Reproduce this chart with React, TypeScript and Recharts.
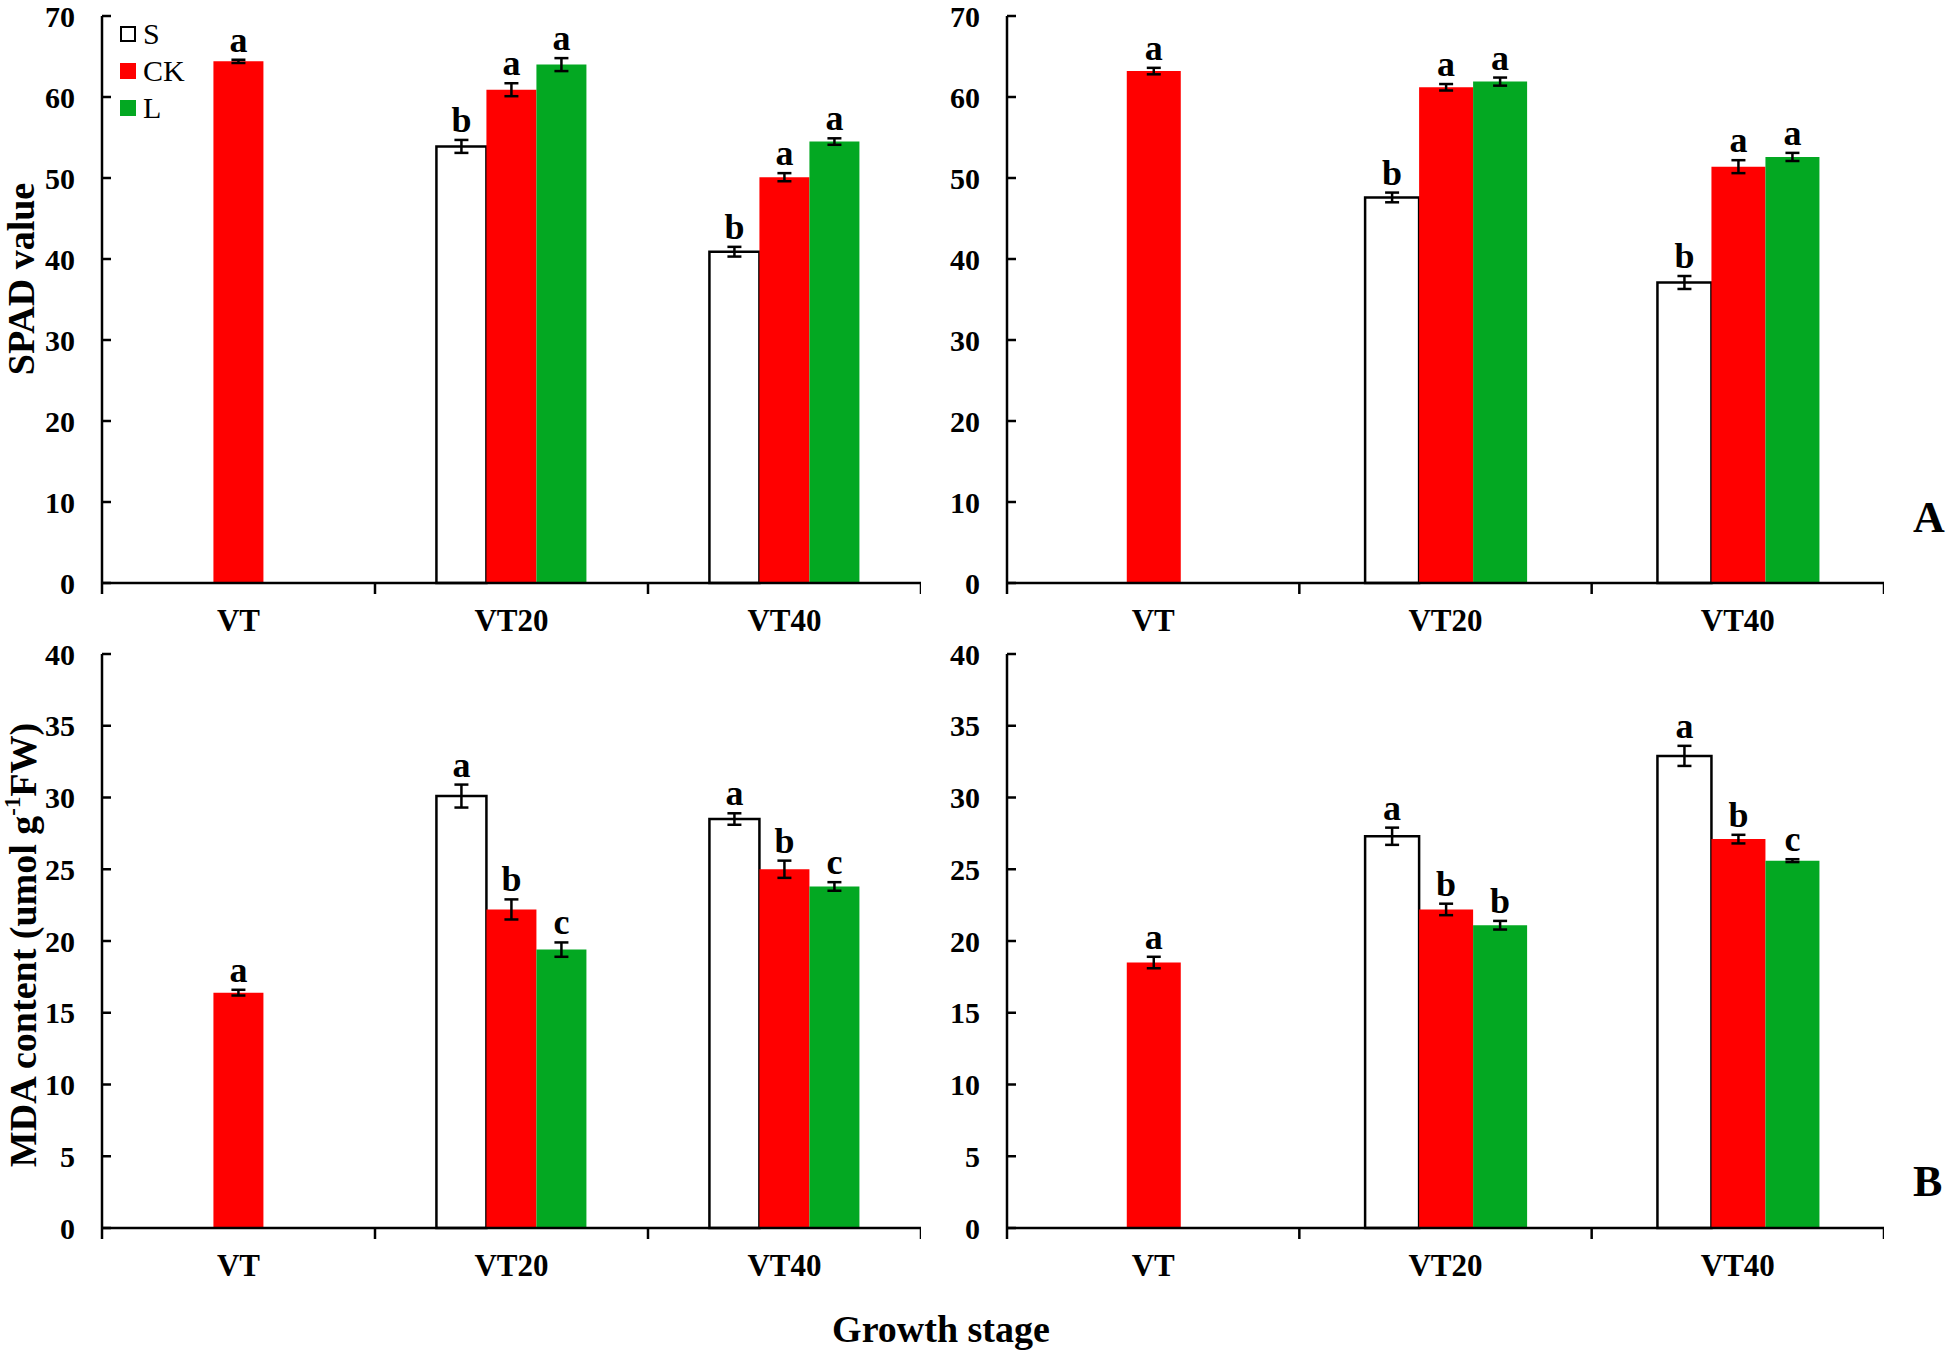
import React from "react";
import { BarChart, Bar, XAxis, YAxis, ErrorBar, LabelList } from "recharts";

const stages = ["VT", "VT20", "VT40"];

// SPAD, left panel
const spadL_S = [null, 53.9, 40.9];
const spadL_CK = [64.4, 60.9, 50.1];
const spadL_L = [null, 64.0, 54.5];
const spadL_Serr = [null, 0.8, 0.6];
const spadL_CKerr = [0.2, 0.8, 0.5];
const spadL_Lerr = [null, 0.8, 0.4];
const spadL_letters = [["", "b", "b"], ["a", "a", "a"], ["", "a", "a"]];

// SPAD, right panel
const spadR_S = [null, 47.6, 37.1];
const spadR_CK = [63.2, 61.2, 51.4];
const spadR_L = [null, 61.9, 52.6];
const spadR_Serr = [null, 0.6, 0.8];
const spadR_CKerr = [0.4, 0.4, 0.8];
const spadR_Lerr = [null, 0.5, 0.5];
const spadR_letters = [["", "b", "b"], ["a", "a", "a"], ["", "a", "a"]];

// MDA, left panel
const mdaL_S = [null, 30.1, 28.5];
const mdaL_CK = [16.4, 22.2, 25.0];
const mdaL_L = [null, 19.4, 23.8];
const mdaL_Serr = [null, 0.8, 0.4];
const mdaL_CKerr = [0.2, 0.7, 0.6];
const mdaL_Lerr = [null, 0.5, 0.3];
const mdaL_letters = [["", "a", "a"], ["a", "b", "b"], ["", "c", "c"]];

// MDA, right panel
const mdaR_S = [null, 27.3, 32.9];
const mdaR_CK = [18.5, 22.2, 27.1];
const mdaR_L = [null, 21.1, 25.6];
const mdaR_Serr = [null, 0.6, 0.7];
const mdaR_CKerr = [0.4, 0.4, 0.3];
const mdaR_Lerr = [null, 0.3, 0.1];
const mdaR_letters = [["", "a", "a"], ["a", "b", "b"], ["", "b", "c"]];

const spadTicks = [0, 10, 20, 30, 40, 50, 60, 70];
const mdaTicks = [0, 5, 10, 15, 20, 25, 30, 35, 40];

const FONT = "'Liberation Serif', 'Times New Roman', serif";
const RED = "#ff0000";
const GREEN = "#03a822";

function rows(s: any[], ck: any[], l: any[], se: any[], cke: any[], le: any[]) {
  return stages.map((stage, i) => ({ stage, S: s[i], CK: ck[i], L: l[i], sErr: se[i], ckErr: cke[i], lErr: le[i] }));
}

// label content: value is the stage name, so look the row up by it
const letterLabel = (data: any[], key: string, errKey: string, letters: string[]) => (p: any) => {
  const vb = p.viewBox ?? p;
  const i = stages.indexOf(p.value);
  const row = data[i];
  const v = row?.[key];
  if (v == null || !letters[i]) return null;
  const ppu = vb.height / v;
  const top = vb.y - (row[errKey] ?? 0) * ppu;
  return (
    <text x={vb.x + vb.width / 2} y={top - 8} textAnchor="middle" fontFamily={FONT} fontWeight="bold" fontSize={36} fill="#000">
      {letters[i]}
    </text>
  );
};

const YTick = (p: any) => (
  <g>
    <line x1={p.x + 27} x2={p.x + 36} y1={p.y} y2={p.y} stroke="#000" strokeWidth={2.5} />
    <text x={p.x} y={p.y} dy="0.35em" textAnchor="end" fontFamily={FONT} fontWeight="bold" fontSize={30} fill="#000">
      {p.payload.value}
    </text>
  </g>
);

const xTick = (band: number) => (p: any) => {
  const axisY = p.y - 37;
  return (
    <g>
      {p.index === 0 && <line x1={p.x - band / 2} x2={p.x - band / 2} y1={axisY} y2={axisY + 11} stroke="#000" strokeWidth={2.5} />}
      <line x1={p.x + band / 2} x2={p.x + band / 2} y1={axisY} y2={axisY + 11} stroke="#000" strokeWidth={2.5} />
      <text x={p.x} y={p.y} dy="0.35em" textAnchor="middle" fontFamily={FONT} fontWeight="bold" fontSize={31} fill="#000">
        {p.payload.value}
      </text>
    </g>
  );
};

interface PanelProps {
  data: any[];
  letters: string[][];
  ticks: number[];
  max: number;
  left: number;
  top: number;
  plotW: number;
  plotH: number;
  marginTop: number;
}

function Panel({ data, letters, ticks, max, left, top, plotW, plotH, marginTop }: PanelProps) {
  const yw = 100;
  const xh = 70;
  const err = { width: 7, stroke: "#000", strokeWidth: 2.5, direction: "y" as const };
  const stageKey = (d: any) => d.stage;
  return (
    <div style={{ position: "absolute", left, top }}>
      <BarChart width={yw + plotW} height={marginTop + plotH + xh} data={data} margin={{ top: marginTop, right: 0, bottom: 0, left: 0 }} barGap={0} barCategoryGap="22.5%">
        <XAxis dataKey="stage" height={xh} tickSize={0} tickMargin={37} tickLine={false} axisLine={{ stroke: "#000", strokeWidth: 2.5 }} tick={xTick(plotW / 3)} interval={0} />
        <YAxis width={yw} domain={[0, max]} ticks={ticks} interval={0} tickSize={0} tickMargin={27} tickLine={false} axisLine={{ stroke: "#000", strokeWidth: 2.5 }} tick={<YTick />} />
        <Bar dataKey="S" fill="#fff" stroke="#000" strokeWidth={2.5} isAnimationActive={false}>
          <ErrorBar dataKey="sErr" {...err} />
          <LabelList dataKey={stageKey} content={letterLabel(data, "S", "sErr", letters[0])} />
        </Bar>
        <Bar dataKey="CK" fill={RED} isAnimationActive={false}>
          <ErrorBar dataKey="ckErr" {...err} />
          <LabelList dataKey={stageKey} content={letterLabel(data, "CK", "ckErr", letters[1])} />
        </Bar>
        <Bar dataKey="L" fill={GREEN} isAnimationActive={false}>
          <ErrorBar dataKey="lErr" {...err} />
          <LabelList dataKey={stageKey} content={letterLabel(data, "L", "lErr", letters[2])} />
        </Bar>
      </BarChart>
    </div>
  );
}

const text = (extra: React.CSSProperties): React.CSSProperties => ({
  position: "absolute",
  fontFamily: FONT,
  fontWeight: "bold",
  color: "#000",
  whiteSpace: "nowrap",
  lineHeight: 1,
  ...extra,
});

const legend = [
  { name: "S", fill: "#fff", border: "2px solid #000" },
  { name: "CK", fill: RED, border: "none" },
  { name: "L", fill: GREEN, border: "none" },
];

export default function App() {
  const spadL = rows(spadL_S, spadL_CK, spadL_L, spadL_Serr, spadL_CKerr, spadL_Lerr);
  const spadR = rows(spadR_S, spadR_CK, spadR_L, spadR_Serr, spadR_CKerr, spadR_Lerr);
  const mdaL = rows(mdaL_S, mdaL_CK, mdaL_L, mdaL_Serr, mdaL_CKerr, mdaL_Lerr);
  const mdaR = rows(mdaR_S, mdaR_CK, mdaR_L, mdaR_Serr, mdaR_CKerr, mdaR_Lerr);
  return (
    <div style={{ position: "absolute", left: 0, top: 0, width: 1946, height: 1351, background: "#fff", overflow: "hidden" }}>
      <Panel data={spadL} letters={spadL_letters} ticks={spadTicks} max={70} left={2} top={0} plotW={819} plotH={567} marginTop={16} />
      <Panel data={spadR} letters={spadR_letters} ticks={spadTicks} max={70} left={907} top={0} plotW={877} plotH={567} marginTop={16} />
      <Panel data={mdaL} letters={mdaL_letters} ticks={mdaTicks} max={40} left={2} top={600} plotW={819} plotH={574} marginTop={54} />
      <Panel data={mdaR} letters={mdaR_letters} ticks={mdaTicks} max={40} left={907} top={600} plotW={877} plotH={574} marginTop={54} />

      {legend.map((l, i) => (
        <div key={l.name} style={{ position: "absolute", left: 120, top: 34 + i * 37 - 8, display: "flex", alignItems: "center" }}>
          <div style={{ width: 16, height: 16, boxSizing: "border-box", background: l.fill, border: l.border }} />
          <span style={{ fontFamily: FONT, fontSize: 30, marginLeft: 7, lineHeight: "16px" }}>{l.name}</span>
        </div>
      ))}

      <div style={text({ left: 21, top: 279, fontSize: 38, transform: "translate(-50%, -50%) rotate(-90deg)" })}>SPAD value</div>
      <div style={text({ left: 22, top: 945, fontSize: 38, transform: "translate(-50%, -50%) rotate(-90deg)" })}>
        MDA content (umol g<sup style={{ fontSize: "0.6em", verticalAlign: "0.7em" }}>-1</sup>FW)
      </div>
      <div style={text({ left: 941, top: 1329, fontSize: 38, transform: "translate(-50%, -50%)" })}>Growth stage</div>
      <div style={text({ left: 1913, top: 496, fontSize: 44 })}>A</div>
      <div style={text({ left: 1913, top: 1160, fontSize: 44 })}>B</div>
    </div>
  );
}
